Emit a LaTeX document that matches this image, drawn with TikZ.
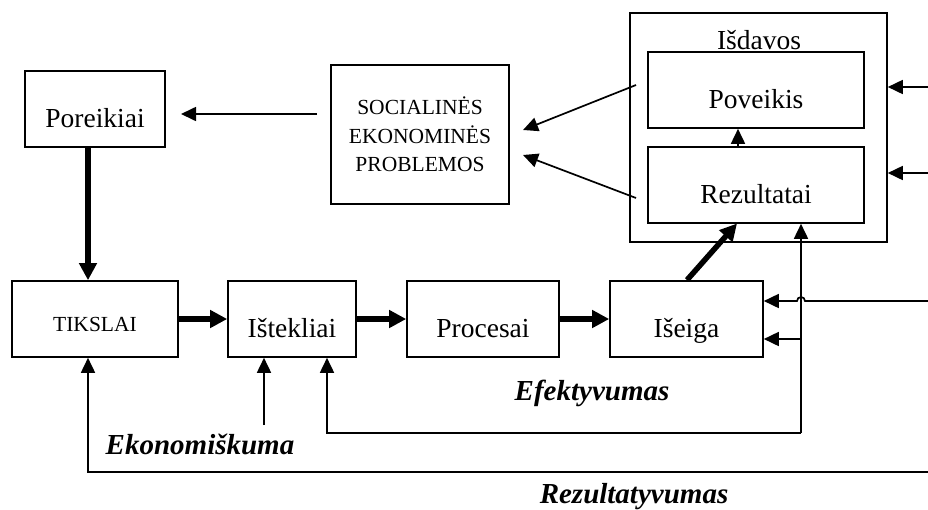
\documentclass[tikz,border=0pt]{standalone}
\usepackage{fontspec}
\setmainfont{Liberation Serif}
\usetikzlibrary{arrows.meta}
\begin{document}
\begin{tikzpicture}[x=1pt,y=-1pt,
  box/.style={draw,line width=1.6pt,inner sep=0pt,
    font=\fontsize{27.5}{30}\selectfont,text height=36pt,text depth=0pt,
    minimum height=76pt},
  capbox/.style={box,font=\fontsize{21.5}{28.5}\selectfont,text height=24pt},
  frame/.style={draw,line width=1.6pt,inner sep=0pt},
  thinarrow/.style={line width=1.7pt,-{Triangle[length=15pt,width=14pt]}},
  thickarrow/.style={line width=5.5pt,-{Triangle[length=17pt,width=17pt]}},
  measure/.style={font=\fontsize{29}{32}\selectfont\bfseries\itshape,inner sep=0pt},
  caption/.style={font=\fontsize{27.5}{30}\selectfont,inner sep=0pt}
]
\useasboundingbox (0,0) rectangle (928,509);

% outputs frame with its two inner boxes
\node[frame,minimum width=257pt,minimum height=229pt] (isd) at (758.5,127.5) {};
\node[caption,anchor=base] (isdlab) at (759,49) {Išdavos};
\node[box,minimum width=216pt] (pov) at (756,90) {Poveikis};
\node[box,minimum width=216pt] (rez) at (756,185) {Rezultatai};

% upper row
\node[box,minimum width=140pt] (por) at (95,109) {Poreikiai};
\node[frame,minimum width=178pt,minimum height=139pt,align=center,
  font=\fontsize{21.5}{28.5}\selectfont] (soc) at (420,134.5)
  {SOCIALINĖS\\EKONOMINĖS\\PROBLEMOS};

% lower row
\node[capbox,minimum width=166pt] (tik) at (95,319) {TIKSLAI};
\node[box,minimum width=128pt] (ist) at (292,319) {Ištekliai};
\node[box,minimum width=152pt] (pro) at (483,319) {Procesai};
\node[box,minimum width=153pt] (iseg) at (686.5,319) {Išeiga};

% free ends and corners of the connectors
\coordinate (inA) at (928,87);
\coordinate (inB) at (928,173);
\coordinate (inC) at (928,301);
\coordinate (inR) at (928,472);
\coordinate (v) at (801,433);
\coordinate (vb) at (801,339);
\coordinate (e1) at (327,433);
\coordinate (r1) at (88,472);
\coordinate (k1) at (264,425);
\coordinate (p1) at (317,114);
\coordinate (p2) at (181,114);
\coordinate (s1) at (636,85);
\coordinate (s2) at (636,198);
\coordinate (t1) at (523,130);
\coordinate (t2) at (523,155);
\coordinate (g1) at (687,280);
\coordinate (g2) at (737,223.5);
\coordinate (u1) at (738,0);

% main chain
\draw[thickarrow] (por.south -| r1) -- (tik.north -| r1);
\draw[thickarrow] (tik.east) -- (ist.west);
\draw[thickarrow] (ist.east) -- (pro.west);
\draw[thickarrow] (pro.east) -- (iseg.west);
\draw[thickarrow] (g1) -- (g2);
\draw[thinarrow] (rez.north -| u1) -- (pov.south -| u1);

% problems
\draw[thinarrow] (p1) -- (p2);
\draw[thinarrow] (s1) -- (t1);
\draw[thinarrow] (s2) -- (t2);

% inputs from the right
\draw[thinarrow] (inA) -- (isd.east |- inA);
\draw[thinarrow] (inB) -- (isd.east |- inB);
\draw[thinarrow] (inC) -- (805,301) arc[start angle=0,end angle=180,radius=4pt]
  -- (iseg.east |- inC);

% feedback loops
\draw[thinarrow] (v) -- (v |- rez.south);
\draw[thinarrow] (vb) -- (iseg.east |- vb);
\draw[thinarrow] (v) -- (e1) -- (e1 |- ist.south);
\draw[thinarrow] (k1) -- (k1 |- ist.south);
\draw[thinarrow] (inR) -- (r1) -- (r1 |- tik.south);

% measures
\node[measure,anchor=base] (eko) at (200,454) {Ekonomiškuma};
\node[measure,anchor=base] (efe) at (592,400) {Efektyvumas};
\node[measure,anchor=base] (rzv) at (634,503) {Rezultatyvumas};
\end{tikzpicture}
\end{document}
